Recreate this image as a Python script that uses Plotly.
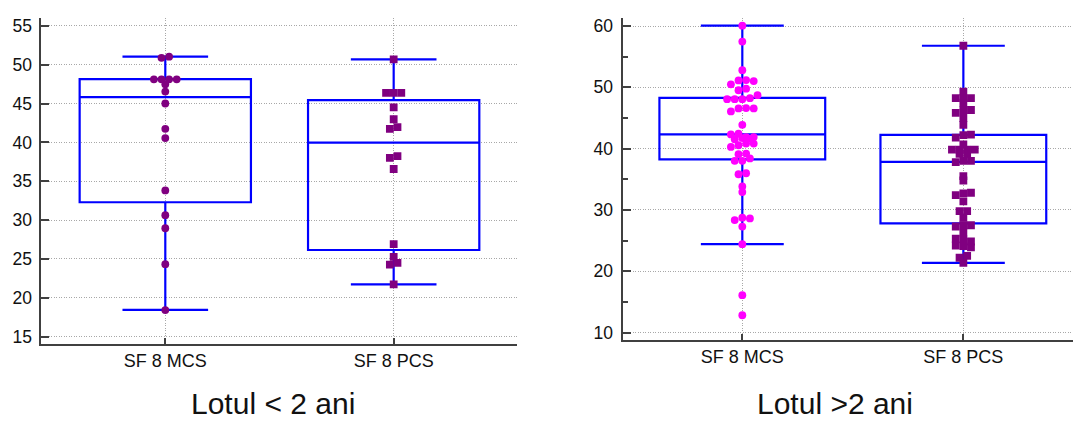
import plotly.graph_objects as go

# ---------------- data ----------------
categories = ["SF 8 MCS", "SF 8 PCS"]
panel_titles = ["Lotul < 2 ani", "Lotul >2 ani"]

# Lotul < 2 ani
left_mcs = [50.9, 51.05, 48.13, 48.13, 48.13, 48.13, 47.49, 46.55, 45.02,
            41.76, 40.57, 33.82, 30.64, 28.95, 24.33, 18.42]
left_pcs = [50.71, 46.38, 46.38, 46.38, 44.51, 42.99, 41.76, 41.97, 38.02,
            38.24, 36.58, 26.91, 25.26, 24.28, 24.49, 21.73]
# box statistics: q1, median, q3, lower whisker, upper whisker
left_mcs_stats = [32.3, 45.83, 48.15, 18.45, 51.05]
left_pcs_stats = [26.15, 39.98, 45.45, 21.73, 50.71]

# Lotul >2 ani
right_mcs = [60.05, 57.47, 52.8,
             50.49, 51.13, 51.18, 51.02,
             49.52, 49.78,
             48.07, 48.07, 48.07, 48.23, 48.72,
             46.07, 46.56, 46.62, 46.56,
             43.88,
             42.32, 42.43, 41.51, 41.88, 41.72, 41.62, 41.88,
             40.27, 40.55, 40.82, 40.82,
             39.09, 39.2,
             38.01, 38.01, 38.4,
             35.82, 35.98,
             33.82, 32.92,
             28.34, 28.73, 28.62,
             27.28, 24.42, 16.09, 12.82]
right_pcs = [56.78, 49.3,
             48.25, 48.25, 48.25,
             47.5,
             45.82, 46.3, 46.3,
             45.0, 43.88,
             41.8, 42.2, 42.3,
             40.7,
             39.85, 39.85, 39.85, 39.85,
             39.15, 39.15,
             37.8, 38.0, 38.0,
             35.5, 34.8,
             32.4, 32.7, 32.8,
             31.4,
             29.8, 29.8,
             28.7,
             27.3, 27.5, 27.5,
             26.3,
             25.3, 25.2, 24.85,
             24.2, 24.1, 23.9,
             22.2, 22.5,
             21.35]
right_mcs_stats = [38.26, 42.34, 48.29, 24.42, 60.05]
right_pcs_stats = [27.8, 37.83, 42.23, 21.35, 56.78]

# ---------------- layout constants ----------------
W, H = 1073, 421
BLUE = "#0000FF"
PURPLE = "#800080"
MAGENTA = "#FF00FF"
AXCOL = "#404040"
GRIDCOL = "#a8a8a8"
FONT = "Liberation Sans, Arial, sans-serif"
MARKER = 7.8
SPACING = 7.6
ROW_THRESH = 4.3

panels = [
    dict(xd=[0.03858, 0.48183], yd=[0.17886, 0.96271], xr=[-0.5425, 1.54], yr=[14.10, 56.09],
         dtick=5, minor=False, data=[left_mcs, left_pcs], stats=[left_mcs_stats, left_pcs_stats],
         colors=[PURPLE, PURPLE], title_x=273),
    dict(xd=[0.58015, 1.0], yd=[0.18836, 0.962], xr=[-0.542, 1.496], yr=[8.84, 61.34],
         dtick=10, minor=True, data=[right_mcs, right_pcs], stats=[right_mcs_stats, right_pcs_stats],
         colors=[MAGENTA, PURPLE], title_x=835),
]
symbols = ["circle", "square"]


def swarm_offsets(values, px_per_unit, px_per_cat):
    order = sorted(range(len(values)), key=lambda i: -values[i])
    rows = []
    for i in order:
        if rows and (values[rows[-1][0]] - values[i]) * px_per_unit <= ROW_THRESH:
            rows[-1].append(i)
        else:
            rows.append([i])
    offs = [0.0] * len(values)
    for row in rows:
        r = sorted(row)
        n = len(r)
        for k, i in enumerate(r):
            offs[i] = (k - (n - 1) / 2) * SPACING / px_per_cat
    return offs


fig = go.Figure()
layout = dict(width=W, height=H, margin=dict(l=0, r=0, t=0, b=0),
              paper_bgcolor="white", plot_bgcolor="white", showlegend=False,
              font=dict(family=FONT, color="#111111"), annotations=[])

for p_i, p in enumerate(panels):
    sfx = "" if p_i == 0 else str(p_i + 1)
    xa, ya = "x" + sfx, "y" + sfx
    px_per_unit = (p["yd"][1] - p["yd"][0]) * H / (p["yr"][1] - p["yr"][0])
    px_per_cat = (p["xd"][1] - p["xd"][0]) * W / (p["xr"][1] - p["xr"][0])
    for c_i in range(2):
        s = p["stats"][c_i]
        fig.add_trace(go.Box(
            x=[c_i], q1=[s[0]], median=[s[1]], q3=[s[2]], lowerfence=[s[3]], upperfence=[s[4]],
            orientation="v", width=0.75, whiskerwidth=0.5, boxpoints=False,
            line=dict(color=BLUE, width=2.2), fillcolor="rgba(0,0,0,0)",
            xaxis=xa, yaxis=ya, hoverinfo="skip"))
    for c_i in range(2):
        vals = p["data"][c_i]
        offs = swarm_offsets(vals, px_per_unit, px_per_cat)
        fig.add_trace(go.Scatter(
            x=[c_i + o for o in offs], y=vals, mode="markers",
            marker=dict(symbol=symbols[c_i], size=MARKER, color=p["colors"][c_i],
                        line=dict(width=0)),
            xaxis=xa, yaxis=ya, hoverinfo="skip"))

    layout["xaxis" + sfx] = dict(
        domain=p["xd"], range=p["xr"], anchor=ya, tickmode="array", tickvals=[0, 1],
        ticktext=categories, ticks="inside", ticklen=6, tickwidth=1.5, tickcolor=AXCOL,
        showline=True, linewidth=2, linecolor=AXCOL, showgrid=True, gridcolor=GRIDCOL,
        griddash="1px,1.5px", gridwidth=1, zeroline=False,
        tickfont=dict(size=18, family=FONT, color="#111"), fixedrange=True)
    ydict = dict(
        domain=p["yd"], range=p["yr"], anchor=xa, tick0=0, dtick=p["dtick"],
        ticks="inside", ticklen=8, tickwidth=1.5, tickcolor=AXCOL,
        showline=True, linewidth=2, linecolor=AXCOL, showgrid=True, gridcolor=GRIDCOL,
        griddash="1px,1.5px", gridwidth=1, zeroline=False, ticklabelstandoff=4,
        tickfont=dict(size=17.5, family=FONT, color="#111"), fixedrange=True)
    if p["minor"]:
        ydict["minor"] = dict(ticks="inside", ticklen=5, tickwidth=1.5, tickcolor=AXCOL,
                              dtick=5, tick0=0, showgrid=False)
    layout["yaxis" + sfx] = ydict
    layout["annotations"].append(dict(
        text=panel_titles[p_i], xref="paper", yref="paper", x=p["title_x"] / W,
        y=(H - 406.5) / H, xanchor="center", yanchor="middle", showarrow=False,
        font=dict(size=30, family=FONT, color="#111")))

fig.update_layout(**layout)
fig.write_html("out.html", config={"displayModeBar": False})
